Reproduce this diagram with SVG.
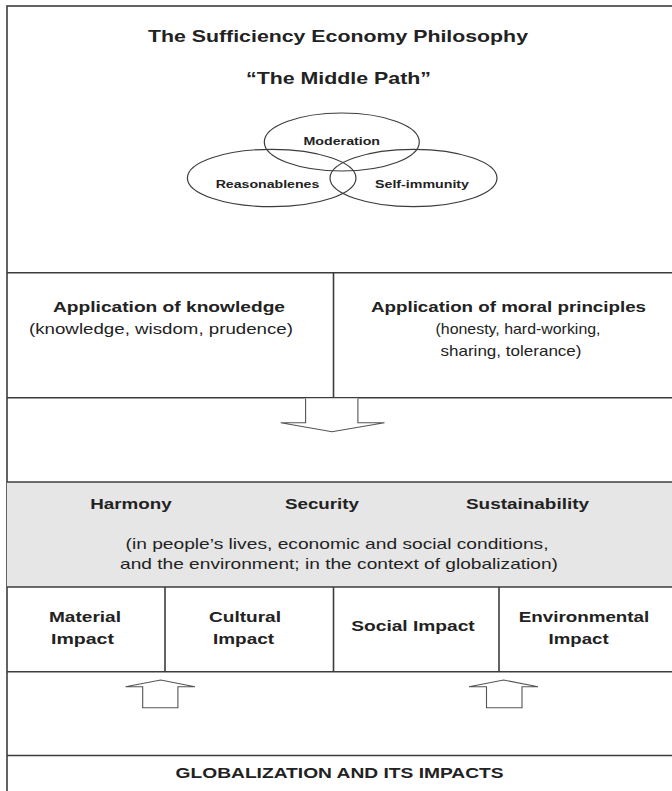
<svg xmlns="http://www.w3.org/2000/svg" width="672" height="791" viewBox="0 0 672 791">
<style>
.ln{stroke:#3c3c3c;stroke-width:1.6;fill:none}
.el{stroke:#3c3c3c;stroke-width:1.2;fill:none}
.t{font-family:"Liberation Sans",Arial,sans-serif;fill:#222;text-anchor:middle}
.b{font-weight:bold}
.arr{fill:#fff;stroke:#555;stroke-width:1.1;stroke-linejoin:miter}
</style>
<rect width="672" height="791" fill="#fff"/>
<g id="frame">
<rect x="7" y="6" width="700" height="800" class="ln" fill="none"/>
</g>
<g id="philosophy">
<text class="t b" x="338" y="42" font-size="17" textLength="380" lengthAdjust="spacingAndGlyphs">The Sufficiency Economy Philosophy</text>
<text class="t b" x="338.5" y="84" font-size="17" textLength="185" lengthAdjust="spacingAndGlyphs">“The Middle Path”</text>
<g id="moderation">
<ellipse class="el" cx="341.8" cy="142" rx="77.5" ry="29"/>
<text class="t b" x="341.8" y="144.5" font-size="11.5" textLength="76.5" lengthAdjust="spacingAndGlyphs">Moderation</text>
</g>
<g id="reasonableness">
<ellipse class="el" cx="271.7" cy="178" rx="84.3" ry="28.7"/>
<text class="t b" x="267.5" y="187.5" font-size="11.5" textLength="103.7" lengthAdjust="spacingAndGlyphs">Reasonablenes</text>
</g>
<g id="selfimmunity">
<ellipse class="el" cx="413.5" cy="178" rx="83.5" ry="28.7"/>
<text class="t b" x="422" y="187.5" font-size="11.5" textLength="94" lengthAdjust="spacingAndGlyphs">Self-immunity</text>
</g>
</g>
<g id="knowledge">
<line class="ln" x1="7" y1="272.7" x2="680" y2="272.7"/>
<text class="t b" x="169" y="312" font-size="15.4" textLength="232" lengthAdjust="spacingAndGlyphs">Application of knowledge</text>
<text class="t" x="161" y="334" font-size="15" textLength="264" lengthAdjust="spacingAndGlyphs">(knowledge, wisdom, prudence)</text>
</g>
<g id="moral">
<line class="ln" x1="333.5" y1="272.7" x2="333.5" y2="397.7"/>
<text class="t b" x="508.5" y="312" font-size="15.4" textLength="275" lengthAdjust="spacingAndGlyphs">Application of moral principles</text>
<text class="t" x="518" y="334" font-size="15" textLength="165" lengthAdjust="spacingAndGlyphs">(honesty, hard-working,</text>
<text class="t" x="511" y="356" font-size="15" textLength="141" lengthAdjust="spacingAndGlyphs">sharing, tolerance)</text>
<line class="ln" x1="7" y1="397.7" x2="680" y2="397.7"/>
</g>
<g id="outcomes">
<rect x="7" y="482" width="700" height="105" fill="#e6e6e6"/>
<line class="ln" x1="7" y1="482" x2="680" y2="482"/>
<text class="t b" x="131" y="508.5" font-size="15" textLength="81.5" lengthAdjust="spacingAndGlyphs">Harmony</text>
<text class="t b" x="322" y="508.5" font-size="15" textLength="74" lengthAdjust="spacingAndGlyphs">Security</text>
<text class="t b" x="527.5" y="508.5" font-size="15" textLength="123" lengthAdjust="spacingAndGlyphs">Sustainability</text>
<text class="t" x="337" y="548.5" font-size="15" textLength="423" lengthAdjust="spacingAndGlyphs">(in people’s lives, economic and social conditions,</text>
<text class="t" x="339" y="569" font-size="15" textLength="438" lengthAdjust="spacingAndGlyphs">and the environment; in the context of globalization)</text>
<line class="ln" x1="7" y1="587" x2="680" y2="587"/>
</g>
<g id="material">
<text class="t b" x="85" y="621.7" font-size="15" textLength="72" lengthAdjust="spacingAndGlyphs">Material</text>
<text class="t b" x="82.5" y="644.3" font-size="15" textLength="63" lengthAdjust="spacingAndGlyphs">Impact</text>
<line class="ln" x1="165" y1="587" x2="165" y2="671.7"/>
</g>
<g id="cultural">
<text class="t b" x="245" y="621.7" font-size="15" textLength="72" lengthAdjust="spacingAndGlyphs">Cultural</text>
<text class="t b" x="243.5" y="644.3" font-size="15" textLength="61" lengthAdjust="spacingAndGlyphs">Impact</text>
<line class="ln" x1="333.5" y1="587" x2="333.5" y2="671.7"/>
</g>
<g id="social">
<text class="t b" x="413" y="631" font-size="15" textLength="123.5" lengthAdjust="spacingAndGlyphs">Social Impact</text>
<line class="ln" x1="499" y1="587" x2="499" y2="671.7"/>
</g>
<g id="environmental">
<text class="t b" x="584" y="621.7" font-size="15" textLength="130.5" lengthAdjust="spacingAndGlyphs">Environmental</text>
<text class="t b" x="578.6" y="644.3" font-size="15" textLength="60" lengthAdjust="spacingAndGlyphs">Impact</text>
<line class="ln" x1="7" y1="671.7" x2="680" y2="671.7"/>
</g>
<g id="globalization">
<line class="ln" x1="7" y1="755.5" x2="680" y2="755.5"/>
<text class="t b" x="339.6" y="778" font-size="14.5" textLength="328" lengthAdjust="spacingAndGlyphs">GLOBALIZATION AND ITS IMPACTS</text>
</g>
<g id="connectors">
<path class="arr" d="M305.6,398.5 L305.6,422.7 L280.7,422.7 L332,431.7 L384.5,422.7 L357.9,422.7 L357.9,398.5"/>
<path class="arr" d="M142.7,707.7 L142.7,686.7 L125.6,686.7 L160.7,680 L195,686.7 L177.9,686.7 L177.9,707.7 Z"/>
<path class="arr" d="M486.5,707.7 L486.5,686.7 L469,686.7 L503.6,680 L538,686.7 L522,686.7 L522,707.7 Z"/>
</g>
</svg>
